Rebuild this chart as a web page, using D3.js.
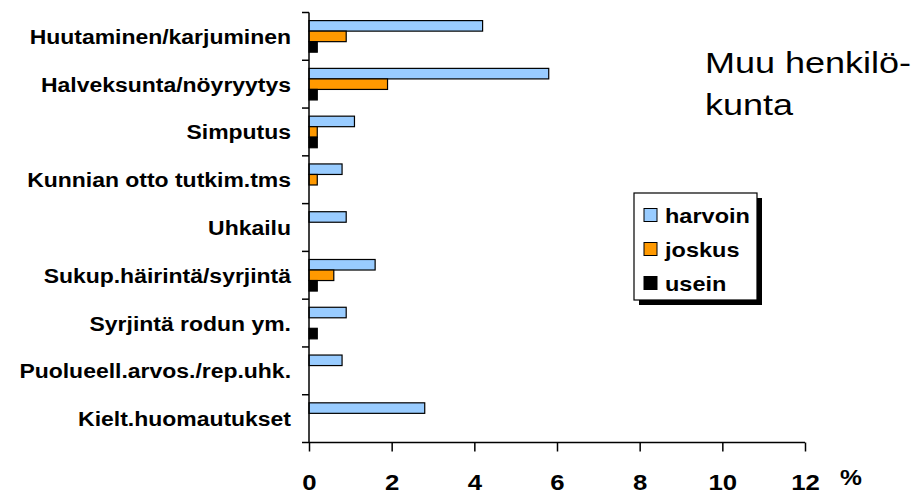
<!DOCTYPE html>
<html><head><meta charset="utf-8">
<script src="https://cdn.jsdelivr.net/npm/d3@7"></script>
<style>body{margin:0;background:#fff}svg{display:block}text{font-family:Arial,"Liberation Sans",sans-serif}</style>
</head><body><svg id="c" width="920" height="494"></svg>
<script>
const categories = ["Huutaminen/karjuminen","Halveksunta/nöyryytys","Simputus","Kunnian otto tutkim.tms","Uhkailu","Sukup.häirintä/syrjintä","Syrjintä rodun ym.","Puolueell.arvos./rep.uhk.","Kielt.huomautukset"];
const seriesNames = ["harvoin","joskus","usein"];
const harvoin = [4.2,5.8,1.1,0.8,0.9,1.6,0.9,0.8,2.8];
const joskus  = [0.9,1.9,0.2,0.2,0,0.6,0,0,0];
const usein   = [0.2,0.2,0.2,0,0,0.2,0.2,0,0];
const colors = ["#99ccff","#ff9900","#000000"];
const xTicks = [0,2,4,6,8,10,12];
const titleLines = ["Muu henkilö-","kunta"];
const unitLabel = "%";

const values = [harvoin, joskus, usein];
const svg = d3.select("#c");
const SX = 1.12;
const x = d3.scaleLinear().domain([0,12]).range([309,805]);
const y = d3.scaleBand().domain(categories).range([12.5,442.5]).padding(0);
const yi = d3.scaleBand().domain(seriesNames).range([0,y.bandwidth()]).paddingInner(0).paddingOuter(0.77);

// bars
categories.forEach((c,ci)=>{
  seriesNames.forEach((s,si)=>{
    const v = values[si][ci];
    if(!v) return;
    svg.append("rect")
      .attr("x", x(0)).attr("y", y(c)+yi(s))
      .attr("width", x(v)-x(0)).attr("height", yi.bandwidth())
      .attr("fill", colors[si]).attr("stroke","#000").attr("stroke-width",1.2);
  });
});

// y axis
const yAxis = svg.append("g").attr("stroke","#000").attr("stroke-width",1.5);
yAxis.append("line").attr("x1",x(0)).attr("x2",x(0)).attr("y1",y.range()[0]).attr("y2",y.range()[1]);
const bounds = categories.map(c=>y(c)).concat([y.range()[1]]);
bounds.forEach(b=>yAxis.append("line").attr("x1",x(0)-7).attr("x2",x(0)).attr("y1",b).attr("y2",b));

// x axis
const xa = svg.append("g").attr("transform",`translate(0,${y.range()[1]})`)
  .call(d3.axisBottom(x).tickValues(xTicks).tickSize(9).tickPadding(0).tickFormat(d3.format("d")));
xa.select(".domain").attr("stroke","#000").attr("stroke-width",1.5).attr("d",`M${x(0)},0H${x(12)}`);
xa.selectAll(".tick line").attr("stroke","#000").attr("stroke-width",1.5);
xa.selectAll(".tick text").attr("fill","#000").attr("font-size",23).attr("font-weight","bold")
  .attr("y",0).attr("dy",0)
  .attr("transform",`translate(0,47) scale(${SX},1)`);

// category labels
svg.append("g").selectAll("text").data(categories).join("text")
  .attr("transform", d=>`translate(291,${y(d)+y.bandwidth()/2+7.5}) scale(${SX},1)`)
  .attr("text-anchor","end").attr("font-size",20.5).attr("font-weight","bold").attr("fill","#000")
  .text(d=>d);

// unit label
svg.append("text").attr("transform",`translate(840,485) scale(${SX},1)`)
  .attr("font-size",22).attr("font-weight","bold").text(unitLabel);

// title
titleLines.forEach((t,i)=>svg.append("text")
  .attr("transform",`translate(705,${73+i*42}) scale(1.2,1)`)
  .attr("font-size",30).attr("fill","#000").text(t));

// legend
const lg = svg.append("g");
lg.append("rect").attr("x",639).attr("y",198).attr("width",123).attr("height",107).attr("fill","#000");
lg.append("rect").attr("x",634).attr("y",193).attr("width",123).attr("height",107).attr("fill","#fff").attr("stroke","#000").attr("stroke-width",1.2);
seriesNames.forEach((s,i)=>{
  const cy = 215 + i*34;
  lg.append("rect").attr("x",644).attr("y",cy-6.5).attr("width",13).attr("height",13)
    .attr("fill",colors[i]).attr("stroke","#000").attr("stroke-width",1);
  lg.append("text").attr("transform",`translate(665,${cy+7.5}) scale(${SX},1)`)
    .attr("font-size",21).attr("font-weight","bold").text(s);
});
</script></body></html>
